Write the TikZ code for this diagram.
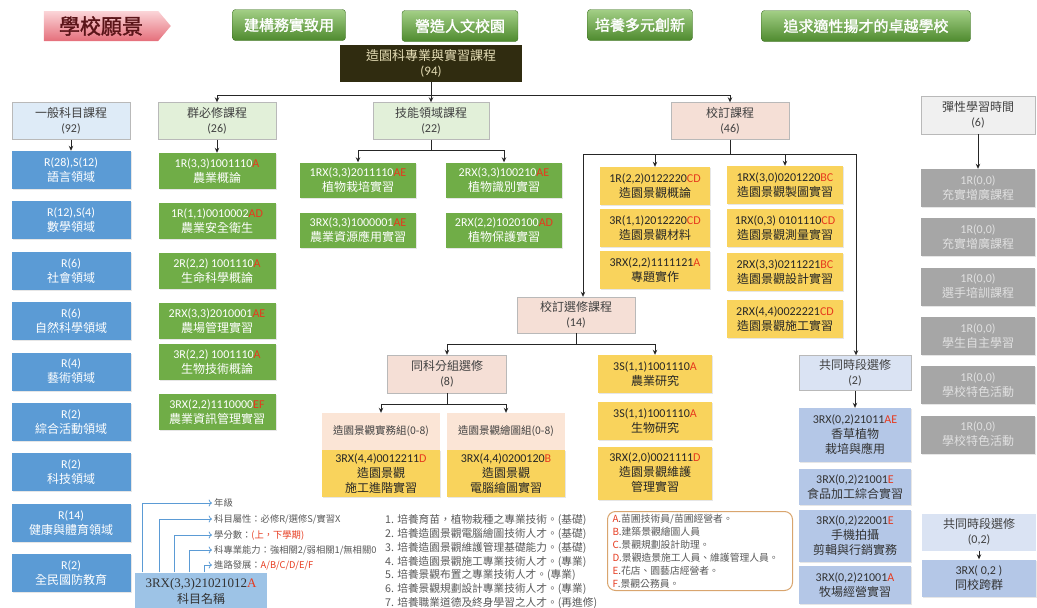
\documentclass[tikz,border=0pt]{standalone}
\usepackage{fontspec}
\setmainfont{Carlito}
\newfontfamily\cjk{Noto Sans CJK TC}
\newfontfamily\cjkb{Noto Sans CJK TC}[FakeBold=1.5]
\newfontfamily\tms{Liberation Serif}
\usetikzlibrary{arrows.meta,shapes.symbols,shadows}
\definecolor{bluA}{HTML}{5B9BD5}
\definecolor{grnA}{HTML}{70AD47}
\definecolor{yelA}{HTML}{F9D35C}
\definecolor{gryA}{HTML}{A6A6A6}
\definecolor{lbA}{HTML}{B4C7E7}
\definecolor{lbB}{HTML}{DAE3F3}
\definecolor{hdB}{HTML}{DEEBF7}
\definecolor{hdG}{HTML}{E2F0D9}
\definecolor{hdP}{HTML}{F5DFD6}
\definecolor{hdQ}{HTML}{FBE5D6}
\definecolor{rootC}{HTML}{302C10}
\definecolor{rootT}{HTML}{E5DDB5}
\definecolor{btnT}{HTML}{A3CF86}
\definecolor{btnB}{HTML}{4E8A2E}
\definecolor{pkT}{HTML}{FBD5D8}
\definecolor{pkB}{HTML}{E56F7B}
\definecolor{visT}{HTML}{5A1418}
\definecolor{codered}{HTML}{E63A1E}
\definecolor{legB}{HTML}{9DC3E6}
\definecolor{orgB}{HTML}{D9A56E}
\newcommand{\rd}[1]{\textcolor{codered}{#1}}

\begin{document}
\begin{tikzpicture}[x=1pt, y=-1pt,
  hd/.style={draw=gray!55, align=center, inner sep=1pt, minimum width=118, minimum height=37, font=\fontsize{12}{15}\selectfont, text=black!75},
  bx/.style={align=center, inner sep=1pt, minimum width=117, minimum height=36, font=\fontsize{12}{15}\selectfont, drop shadow={opacity=.2, shadow xshift=1pt, shadow yshift=-1pt}},
  blu/.style={bx, fill=bluA, text=white, minimum width=119, minimum height=38},
  grn/.style={bx, fill=grnA, text=white},
  yel/.style={bx, fill=yelA, text=black!85},
  gry/.style={bx, fill=gryA, text=white!88!black, minimum width=114, minimum height=38},
  lb/.style={bx, fill=lbA, text=black!80, minimum width=112},
  btn/.style={rounded corners=3, top color=btnT, bottom color=btnB, draw=btnB!80!black, text=white, minimum height=31, font=\cjkb\fontsize{15}{15}\selectfont},
  lt/.style={anchor=west, inner sep=0pt, font=\cjk\fontsize{9.3}{11}\selectfont, text=black!65},
  ln/.style={line width=1pt, black!85},
  arr/.style={ln, -{Stealth[length=5pt, width=4.5pt]}},
  larr/.style={->, bluA, thick, shorten >=2pt}]

\useasboundingbox (0,0) rectangle (1037,608);

\node[signal, signal to=east, signal pointer angle=100, minimum width=127, minimum height=30, inner sep=1pt, top color=pkT, bottom color=pkB, text=visT, font=\cjkb\fontsize{21}{21}\selectfont] (vis) at (101,26) {學校願景};
\node[btn, minimum width=113] (v1) at (289,25) {建構務實致用};
\node[btn, minimum width=116] (v2) at (460,26) {營造人文校園};
\node[btn, minimum width=105] (v3) at (640,25) {培養多元創新};
\node[btn, minimum width=209] (v4) at (866,26) {追求適性揚才的卓越學校};

\node[fill=rootC, text=rootT, minimum width=182, minimum height=37, align=center, inner sep=1pt, font=\fontsize{13}{15}\selectfont] (root) at (431,63) {{\cjk 造園科專業與實習課程}\\(94)};

\node[hd, fill=hdB] (gen) at (71,121) {{\cjk 一般科目課程}\\(92)};
\node[hd, fill=hdG] (qb) at (217,121) {{\cjk 群必修課程}\\(26)};
\node[hd, fill=hdG, minimum width=116] (jn) at (431,121) {{\cjk 技能領域課程}\\(22)};
\node[hd, fill=hdP] (kd) at (730,121) {{\cjk 校訂課程}\\(46)};
\node[hd, fill=gray!12, minimum width=114, minimum height=38] (flex) at (978,115) {{\cjk 彈性學習時間}\\(6)};

\coordinate (rb) at (431,95);
\draw[ln] (root.south) -- (rb);
\draw[arr] (rb) -| (qb.north);
\draw[arr] (rb) -| (kd.north);
\draw[arr] (rb) -- (jn.north);

\foreach \c/\t [count=\i] in {{R(28),S(12)}/語言領域, {R(12),S(4)}/數學領域, R(6)/社會領域, R(6)/自然科學領域, R(4)/藝術領域, R(2)/綜合活動領域, R(2)/科技領域, R(14)/健康與體育領域, R(2)/全民國防教育}
  \node[blu] (g\i) at (71,{170+50.4*(\i-1)}) {\c\\\cjk \t};
\draw[arr] (gen.south) -- (g1.north);

\node[grn] (q1) at (217,171) {1R(3,3)1001110\rd{A}\\\cjk 農業概論};
\node[grn] (q2) at (217,221) {1R(1,1)0010002\rd{AD}\\\cjk 農業安全衛生};
\node[grn] (q3) at (217,271) {2R(2,2) 1001110\rd{A}\\\cjk 生命科學概論};
\node[grn] (q4) at (217,321) {2RX(3,3)2010001\rd{AE}\\\cjk 農場管理實習};
\node[grn] (q5) at (217,362) {3R(2,2) 1001110\rd{A}\\\cjk 生物技術概論};
\node[grn] (q6) at (217,412) {3RX(2,2)1110000\rd{EF}\\\cjk 農業資訊管理實習};
\draw[arr] (qb.south) -- (q1.north);

\node[grn, minimum width=116, minimum height=35] (s1) at (358,180) {1RX(3,3)2011110\rd{AE}\\\cjk 植物栽培實習};
\node[grn, minimum width=116, minimum height=35] (s2) at (504,180) {2RX(3,3)100210\rd{AE}\\\cjk 植物識別實習};
\node[grn, minimum width=116, minimum height=35] (s3) at (358,230) {3RX(3,3)1000001\rd{AE}\\\cjk 農業資源應用實習};
\node[grn, minimum width=116, minimum height=35] (s4) at (504,230) {2RX(2,2)1020100\rd{AD}\\\cjk 植物保護實習};
\coordinate (jb) at (431,150);
\draw[ln] (jn.south) -- (jb);
\draw[arr] (jb) -| (s1.north);
\draw[arr] (jb) -| (s2.north);

\node[yel, minimum width=110, minimum height=38] (y1) at (655,186) {1R(2,2)0122220\rd{CD}\\\cjk 造園景觀概論};
\node[yel, minimum width=110, minimum height=38] (y2) at (655,228) {3R(1,1)2012220\rd{CD}\\\cjk 造園景觀材料};
\node[yel, minimum width=110, minimum height=38] (y3) at (655,270) {3RX(2,2)1111121\rd{A}\\\cjk 專題實作};
\node[yel, minimum width=116, minimum height=38] (z1) at (785,185) {1RX(3,0)0201220\rd{BC}\\\cjk 造園景觀製圖實習};
\node[yel, minimum width=116, minimum height=38] (z2) at (785,228) {1RX(0,3) 0101110\rd{CD}\\\cjk 造園景觀測量實習};
\node[yel, minimum width=116, minimum height=38] (z3) at (785,272) {2RX(3,3)0211221\rd{BC}\\\cjk 造園景觀設計實習};
\node[yel, minimum width=116, minimum height=38] (z4) at (785,319) {2RX(4,4)0022221\rd{CD}\\\cjk 造園景觀施工實習};

\node[hd, fill=hdP, minimum height=36] (kx) at (576,315) {{\cjk 校訂選修課程}\\(14)};
\node[hd, fill=lbB, minimum width=112, minimum height=35] (cs) at (855,373) {{\cjk 共同時段選修}\\(2)};

\coordinate (kb) at (730,154);
\coordinate (kl) at (583,154);
\coordinate (kr) at (856,154);
\draw[ln] (kd.south) -- (kb);
\draw[ln] (kl) -- (kr);
\draw[arr] (kl) -- (kl |- kx.north);
\draw[arr] (y1.north |- kl) -- (y1.north);
\draw[arr] (z1.north |- kl) -- (z1.north);
\draw[arr] (kr) -- (kr |- cs.north);

\node[hd, fill=hdP, minimum width=119, minimum height=38] (tf) at (447,374) {{\cjk 同科分組選修}\\(8)};
\node[yel, minimum width=114, minimum height=38] (m1) at (655,374) {3S(1,1)1001110\rd{A}\\\cjk 農業研究};
\node[yel, minimum width=114, minimum height=38] (m2) at (655,421) {3S(1,1)1001110\rd{A}\\\cjk 生物研究};
\node[yel, minimum width=114, minimum height=53] (m3) at (655,473) {3RX(2,0)0021111\rd{D}\\\cjk 造園景觀維護\\\cjk 管理實習};
\coordinate (xb) at (576,344);
\draw[ln] (kx.south) -- (xb);
\draw[arr] (xb) -| (tf.north);
\draw[arr] (xb) -| (m1.north);

\node[fill=hdQ, minimum width=118, minimum height=37, inner sep=1pt, text=black!75, font=\cjk\fontsize{10.5}{12}\selectfont] (p1) at (381,431.5) {造園景觀實務組(0-8)};
\node[fill=hdQ, minimum width=118, minimum height=37, inner sep=1pt, text=black!75, font=\cjk\fontsize{10.5}{12}\selectfont] (p2) at (506,431.5) {造園景觀繪圖組(0-8)};
\node[yel, minimum width=118, minimum height=47, anchor=north, drop shadow={opacity=0}] (p1b) at (p1.south) {3RX(4,4)0012211\rd{D}\\\cjk 造園景觀\\\cjk 施工進階實習};
\node[yel, minimum width=118, minimum height=47, anchor=north, drop shadow={opacity=0}] (p2b) at (p2.south) {3RX(4,4)0200120\rd{B}\\\cjk 造園景觀\\\cjk 電腦繪圖實習};
\coordinate (tb) at (447,404);
\draw[ln] (tf.south) -- (tb);
\draw[arr] (tb) -| (p1.north);
\draw[arr] (tb) -| (p2.north);

\node[lb, minimum height=54] (c1) at (855,435) {3RX(0,2)21011\rd{AE}\\\cjk 香草植物\\\cjk 栽培與應用};
\node[lb, minimum height=36] (c2) at (855,487) {3RX(0,2)21001\rd{E}\\\cjk 食品加工綜合實習};
\node[lb, minimum height=52] (c3) at (855,536) {3RX(0,2)22001\rd{E}\\\cjk 手機拍攝\\\cjk 剪輯與行銷實務};
\node[lb, minimum height=38] (c4) at (855,585) {3RX(0,2)21001\rd{A}\\\cjk 牧場經營實習};
\draw[arr] (cs.south) -- (c1.north);

\foreach \t [count=\i] in {充實增廣課程, 充實增廣課程, 選手培訓課程, 學生自主學習, 學校特色活動, 學校特色活動}
  \node[gry] (f\i) at (978,{188+49.3*(\i-1)}) {1R(0,0)\\\cjk \t};
\draw[arr] (flex.south) -- (f1.north);

\node[hd, fill=lbB, draw=none, minimum width=114, minimum height=37] (cs2) at (979,532) {{\cjk 共同時段選修}\\(0,2)};
\node[lb, minimum width=114, minimum height=37] (x2) at (979,578) {3RX( 0,2 )\\\cjk 同校跨群};
\draw[arr] (cs2.south) -- (x2.north);

\node[fill=legB, minimum width=132, minimum height=37, align=center, inner sep=1pt, text=black!80, font=\tms\fontsize{13}{16}\selectfont] (lg) at (201,591) {3RX(3,3)21021012\rd{A}\\\cjk\fontsize{12}{16}\selectfont 科目名稱};
\node[lt] (t1) at (214,503) {年級};
\node[lt] (t2) at (214,519) {科目屬性：必修R/選修S/實習X};
\node[lt] (t3) at (214,535) {學分數：\rd{(上，下學期)}};
\node[lt] (t4) at (214,550) {科專業能力：強相關2/弱相關1/無相關0};
\node[lt] (t5) at (214,565) {進路發展：\rd{A/B/C/D/E/F}};
\foreach \i/\d in {1/8,2/25,3/40,4/55,5/70}
  \draw[larr] ([xshift=\d pt]lg.north west) |- (t\i.west);

\node[anchor=north west, align=left, inner sep=0pt, text=black!65, font=\cjk\fontsize{10.7}{13.9}\selectfont] (goal) at (385,514) {1. 培養育苗，植物栽種之專業技術。(基礎)\\2. 培養造園景觀電腦繪圖技術人才。(基礎)\\3. 培養造園景觀維護管理基礎能力。(基礎)\\4. 培養造園景觀施工專業技術人才。(專業)\\5. 培養景觀布置之專業技術人才。(專業)\\6. 培養景觀規劃設計專業技術人才。(專業)\\7. 培養職業道德及終身學習之人才。(再進修)};

\node[draw=orgB, line width=1pt, rounded corners=8, fill=white, anchor=north west, text width=175, minimum height=79, inner xsep=5pt, inner ysep=2pt, align=left, text=black!65, font=\cjk\fontsize{9.8}{13}\selectfont] (job) at (607,511) {\rd{A}.苗圃技術員/苗圃經營者。\\\rd{B}.建築景觀繪圖人員\\\rd{C}.景觀規劃設計助理。\\\rd{D}.景觀造景施工人員、維護管理人員。\\\rd{E}.花店、園藝店經營者。\\\rd{F}.景觀公務員。};
\end{tikzpicture}
\end{document}
